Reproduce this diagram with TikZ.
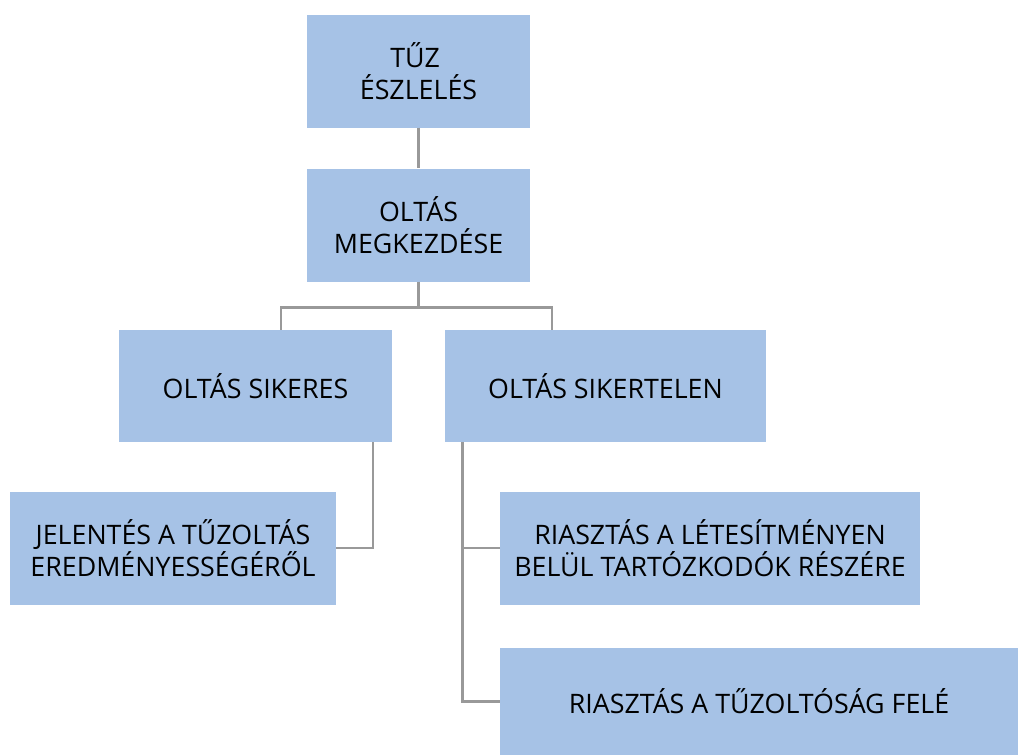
\documentclass[tikz,border=0pt]{standalone}
\usepackage{fontspec}
\setmainfont{Open Sans}
\definecolor{boxfill}{HTML}{A6C2E6}
\definecolor{linegray}{HTML}{999999}
\tikzset{
  box/.style={fill=boxfill, draw=none, inner sep=0pt, align=center,
    font=\fontsize{26.8}{31.5}\selectfont, text=black},
  conn/.style={draw=linegray, line width=2.8pt}
}
\begin{document}
\begin{tikzpicture}[x=1pt,y=-1pt]
\useasboundingbox (0,0) rectangle (1020,755);
\node[box, minimum width=223pt, minimum height=113pt] (b1) at (418.5,71) {TŰZ\hphantom{i}\\ÉSZLELÉS};
\node[box, minimum width=223pt, minimum height=113pt] (b2) at (418.5,225) {OLTÁS\\MEGKEZDÉSE};
\node[box, minimum width=273pt, minimum height=112pt] (b3) at (255.5,386) {OLTÁS SIKERES};
\node[box, minimum width=321pt, minimum height=112pt] (b4) at (605.5,386) {OLTÁS SIKERTELEN};
\node[box, minimum width=326pt, minimum height=113pt] (b5) at (173,548) {JELENTÉS A TŰZOLTÁS\\EREDMÉNYESSÉGÉRŐL};
\node[box, minimum width=420pt, minimum height=113pt] (b6) at (710,548) {RIASZTÁS A LÉTESÍTMÉNYEN\\BELÜL TARTÓZKODÓK RÉSZÉRE};
\node[box, minimum width=518pt, minimum height=107pt] (b7) at (759,701.5) {RIASZTÁS A TŰZOLTÓSÁG FELÉ};
\coordinate (j2) at (418.5,307.5);
\coordinate (t3) at (281,329.5);
\coordinate (t4) at (552,329.5);
\coordinate (s3) at (373,442);
\coordinate (s4) at (462.5,442);
\draw[conn] (b1.south) -- (b2.north);
\draw[conn] (b2.south) -- (j2);
\draw[conn] (t3) |- (j2) -| (t4);
\draw[conn] (s3) |- (b5.east);
\draw[conn] (s4) |- (b7.west);
\draw[conn] (s4 |- b6.west) -- (b6.west);
\end{tikzpicture}
\end{document}
